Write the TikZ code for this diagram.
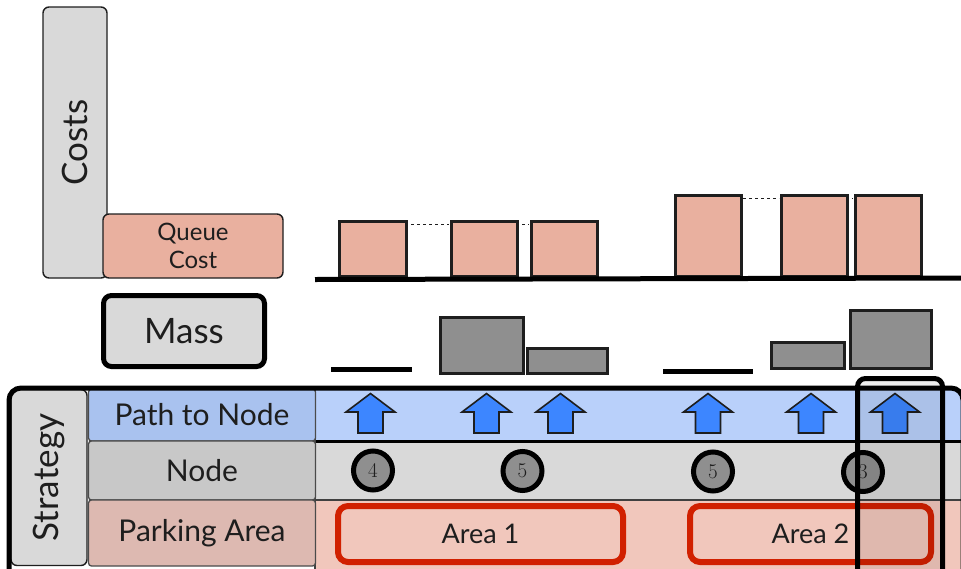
\documentclass[tikz,border=0pt]{standalone}
\usepackage{fontspec}
\setmainfont{Lato}
\newfontfamily\digitfont{Latin Modern Roman}
\begin{document}
\definecolor{panelgray}{HTML}{D9D9D9}
\definecolor{salmon}{HTML}{E9B09F}
\definecolor{massgray}{HTML}{8F8F8F}
\definecolor{pathhead}{HTML}{A9C2EF}
\definecolor{pathrow}{HTML}{B9D0FA}
\definecolor{nodehead}{HTML}{C8C8C8}
\definecolor{noderow}{HTML}{D9D9D9}
\definecolor{parkhead}{HTML}{DDB9B1}
\definecolor{parkrow}{HTML}{F1C7BC}
\definecolor{arrowblue}{HTML}{3D86FF}
\definecolor{areared}{HTML}{D12000}
\definecolor{ink}{HTML}{1E1E1E}
\begin{tikzpicture}[x=1pt,y=-1pt,
  every node/.style={text=ink},
  labelbox/.style={draw=ink, line width=1.4pt, rounded corners=6pt, inner sep=0pt},
  bigtext/.style={font=\fontsize{35pt}{40pt}\selectfont},
  midtext/.style={font=\fontsize{30pt}{34pt}\selectfont},
  smalltext/.style={font=\fontsize{24pt}{28pt}\selectfont},
  costbar/.style={draw=ink, line width=3pt, fill=salmon, anchor=south west, inner sep=0pt},
  massbar/.style={draw=ink, line width=3pt, fill=massgray, anchor=south west, inner sep=0pt},
  level/.style={dashed, line width=0.8pt, ink},
  headcell/.style={draw=ink!80, line width=1.3pt, rounded corners=3pt, inner sep=0pt},
  blockup/.style={draw=ink, line width=1.6pt, fill=arrowblue, line join=miter},
  marker/.style={circle, draw=black, line width=5pt, fill=massgray, minimum size=39pt, inner sep=0pt,
    font=\digitfont\fontsize{21pt}{21pt}\selectfont},
  areabox/.style={draw=areared, line width=6pt, rounded corners=10pt, fill=parkrow, inner sep=0pt,
    font=\fontsize{27pt}{30pt}\selectfont},
]
\useasboundingbox (0,0) rectangle (961,568);

% ---- cost axis labels
\node[labelbox, fill=panelgray, rotate=90, minimum width=271pt, minimum height=64pt, bigtext]
  (costs) at (75,142.5) {Costs};
\node[labelbox, fill=salmon, minimum width=180pt, minimum height=64pt, align=center, smalltext]
  (queue) at (193,246) {Queue\\Cost};

% ---- queue cost bars
\draw[level] (405,224) -- (449,224);
\draw[level] (516,224) -- (529,224);
\draw[level] (695,198) -- (779,198);
\draw[level] (846,198) -- (853,198);
\node[costbar, minimum width=67pt, minimum height=55pt] (c1) at (338,278) {};
\node[costbar, minimum width=66pt, minimum height=55pt] (c2) at (450,278) {};
\node[costbar, minimum width=66pt, minimum height=55pt] (c3) at (529.5,278) {};
\node[costbar, minimum width=66pt, minimum height=81pt] (c4) at (674,278) {};
\node[costbar, minimum width=66pt, minimum height=81pt] (c5) at (779.5,278) {};
\node[costbar, minimum width=66pt, minimum height=81pt] (c6) at (854,278) {};
\draw[line width=5pt, black] (315,279.5) -- (961,278);

% ---- mass
\node[draw=black, line width=5pt, rounded corners=8pt, fill=panelgray, minimum width=161pt,
  minimum height=71pt, bigtext] (mass) at (184,331) {Mass};
\draw[line width=5pt, black] (331,369) -- (412,369);
\draw[line width=5pt, black] (663,371) -- (753,371);
\node[massbar, minimum width=83pt, minimum height=56pt] (m1) at (438.5,374.5) {};
\node[massbar, minimum width=80pt, minimum height=25pt] (m2) at (525.5,374.5) {};
\node[massbar, minimum width=73pt, minimum height=26pt] (m3) at (769.5,369.5) {};
\node[massbar, minimum width=81pt, minimum height=58pt] (m4) at (848.5,369.5) {};

% ---- strategy table
\fill[pathrow] (315,389) rectangle (966,441);
\fill[noderow] (315,441) rectangle (966,500);
\fill[parkrow] (315,500) rectangle (966,570);
\draw[line width=3pt, black] (315,441) -- (966,441);
\draw[line width=1.5pt, ink!85] (315,500) -- (966,500);
\draw[line width=1.5pt, ink!85] (315,389) -- (315,570);

\node[headcell, fill=pathhead, minimum width=227pt, minimum height=52pt, midtext] (hpath) at (202,415) {Path to Node};
\node[headcell, fill=nodehead, minimum width=227pt, minimum height=59pt, midtext] (hnode) at (202,470.5) {Node};
\node[headcell, fill=parkhead, minimum width=227pt, minimum height=66pt, midtext] (hpark) at (202,533) {Parking Area};
\node[labelbox, fill=panelgray, rotate=90, minimum width=176pt, minimum height=76pt, bigtext]
  (strategy) at (49,477.5) {Strategy};
\draw[line width=5pt, black, rounded corners=12pt] (9,590) -- (9,388) -- (963,388) -- (963,590);

% ---- path arrows
\foreach \cx in {370.5,486.5,560.5,708,811,895}
  \draw[blockup] (\cx-12.5,433) -- (\cx+12.5,433) -- (\cx+12.5,412) -- (\cx+24.5,412)
    -- (\cx,393.5) -- (\cx-24.5,412) -- (\cx-12.5,412) -- cycle;

% ---- nodes
\node[marker] (n1) at (373,470.5) {4};
\node[marker] (n2) at (522.5,471) {5};
\node[marker] (n3) at (713,471.5) {5};
\node[marker] (n4) at (863,472) {3};

% ---- parking areas
\node[areabox, minimum width=285pt, minimum height=56pt] (a1) at (480.5,534) {Area 1};
\node[areabox, minimum width=241pt, minimum height=56pt] (a2) at (810.5,534) {Area 2};

% ---- highlighted column
\draw[line width=5pt, black, rounded corners=8pt, fill=black, fill opacity=0.07]
  (857.5,600) -- (857.5,378.5) -- (942.5,378.5) -- (942.5,600);
\end{tikzpicture}
\end{document}
